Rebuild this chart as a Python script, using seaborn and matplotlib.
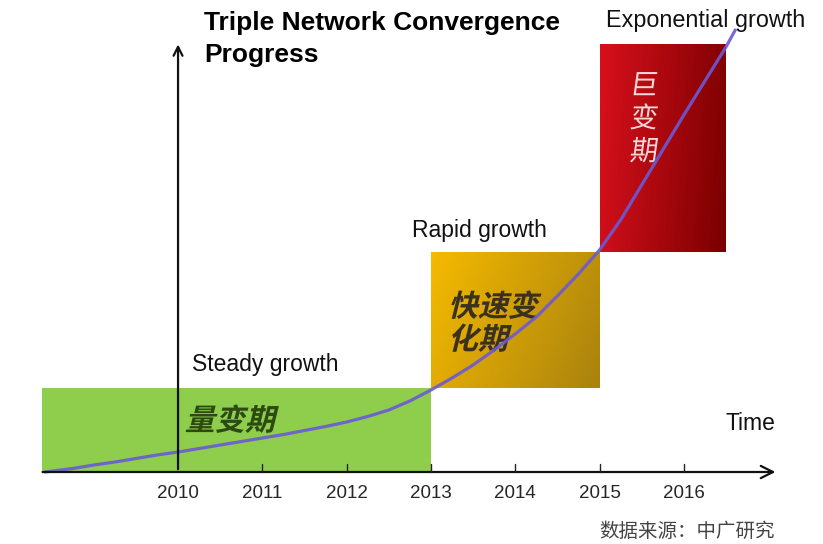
import numpy as np
import pandas as pd
import matplotlib
matplotlib.use("Agg")
import matplotlib.pyplot as plt
import seaborn as sns
from matplotlib.colors import LinearSegmentedColormap
from matplotlib.textpath import TextPath
from matplotlib.font_manager import FontProperties
from matplotlib.patches import PathPatch, Rectangle
from matplotlib.transforms import Affine2D

# ---------------- data ----------------
years = [2010, 2011, 2012, 2013, 2014, 2015, 2016]
tick_labels = ["2010", "2011", "2012", "2013", "2014", "2015", "2016"]

curve_x = [2008.42, 2008.75, 2009.0, 2009.25, 2009.5, 2009.75, 2010.0, 2010.25,
           2010.5, 2010.75, 2011.0, 2011.25, 2011.5, 2011.75, 2012.0, 2012.25,
           2012.5, 2012.75, 2013.0, 2013.25, 2013.5, 2013.75, 2014.0, 2014.25,
           2014.5, 2014.75, 2015.0, 2015.25, 2015.5, 2015.75, 2016.0, 2016.25,
           2016.5, 2016.61]
curve_y = [0.0, 0.82, 1.64, 2.34, 3.16, 3.98, 4.68, 5.50,
           6.32, 7.14, 7.96, 8.78, 9.72, 10.66, 11.71, 13.0,
           14.52, 16.63, 19.2, 22.01, 25.06, 28.57, 32.32, 36.3,
           41.22, 46.37, 51.99, 59.02, 67.21, 75.41, 83.61, 91.57,
           99.53, 103.51]

phase_names = ["量变期", "快速变\n化期", "巨\n变\n期"]
phase_labels = ["Steady growth", "Rapid growth", "Exponential growth"]
phase_start = [2008.39, 2013.0, 2015.0]
phase_end = [2013.0, 2015.0, 2016.49]
phase_low = [0.0, 19.7, 51.5]
phase_high = [19.7, 51.5, 100.0]

title_lines = ["Triple Network Convergence", "Progress"]
x_label = "Time"
source = "数据来源：中广研究"

# ---------------- style ----------------
sns.set_theme(style="white")
plt.rcParams["font.family"] = ["Liberation Sans", "Noto Sans CJK SC", "DejaVu Sans"]

fig = plt.figure(figsize=(8.23, 5.44), dpi=100)
ax = fig.add_axes([0, 0, 1, 1])
XLIM = (2007.888, 2017.651)
YLIM = (-16.86, 110.54)
ax.set_xlim(*XLIM)
ax.set_ylim(*YLIM)
ax.set_autoscale_on(False)
ax.axis("off")

# phase blocks
ax.add_patch(Rectangle((phase_start[0], phase_low[0]), phase_end[0] - phase_start[0],
                       phase_high[0] - phase_low[0], facecolor="#8fce4c", edgecolor="none", zorder=1))

def gradient_block(i, c0, c1, wx=0.75):
    n = 200
    xf = np.linspace(0, 1, n)[None, :]
    yf = np.linspace(0, 1, n)[:, None]
    g = wx * xf + (1 - wx) * (1 - yf)
    cmap = LinearSegmentedColormap.from_list("g%d" % i, [c0, c1])
    ax.imshow(g, extent=[phase_start[i], phase_end[i], phase_low[i], phase_high[i]],
              origin="lower", cmap=cmap, aspect="auto", zorder=1, interpolation="bilinear")

gradient_block(1, "#f5ba00", "#a9820e")
gradient_block(2, "#d8101c", "#7a0000", wx=0.9)
ax.set_xlim(*XLIM)
ax.set_ylim(*YLIM)

# growth curve
df = pd.DataFrame({"year": curve_x, "progress": curve_y})
sns.lineplot(data=df, x="year", y="progress", ax=ax, color="#6b5ad6", lw=2.3,
             alpha=0.9, zorder=4, sort=False)

# axes arrows
ax.annotate("", xy=(2017.12, 0), xytext=(2008.36, 0),
            arrowprops=dict(arrowstyle="->", lw=1.6, color="#111111",
                            mutation_scale=22), zorder=5)
ax.annotate("", xy=(2010, 100.8), xytext=(2010, 0),
            arrowprops=dict(arrowstyle="->", lw=1.6, color="#111111",
                            mutation_scale=16), zorder=5)
for yr, lab in zip(years, tick_labels):
    if yr != years[0]:
        ax.plot([yr, yr], [0, 1.9], color="#222222", lw=1.0, zorder=5)
    ax.text(yr, -5.15, lab, ha="center", va="center", fontsize=13.5, color="#262626")

# texts
ax.text(2010.31, 103.5, title_lines[0], ha="left", va="baseline", fontsize=19,
        fontweight="bold", color="black")
ax.text(2010.31, 96.0, title_lines[1], ha="left", va="baseline", fontsize=19,
        fontweight="bold", color="black")
ax.text(2015.08, 104.3, phase_labels[2], ha="left", va="baseline", fontsize=16.8, color="#111111")
ax.text(2012.77, 55.0, phase_labels[1], ha="left", va="baseline", fontsize=16.5, color="#111111")
ax.text(2010.17, 23.65, phase_labels[0], ha="left", va="baseline", fontsize=16.5, color="#111111")
ax.text(2016.49, 9.84, x_label, ha="left", va="baseline", fontsize=16.5, color="#111111")
ax.text(2015.0, -15.2, source, ha="left", va="baseline", fontsize=14,
        color="#444444", family=["Noto Sans CJK SC", "DejaVu Sans"])

fp_bold = FontProperties(family="Noto Sans CJK SC", weight="bold")
fp_reg = FontProperties(family="Noto Sans CJK SC", weight="normal")

def skew_text(x, y, s, size_px, color, step_px, skew=14, fp=fp_bold):
    X, Y = ax.transData.transform((x, y))
    for k, line in enumerate(s.split("\n")):
        tp = TextPath((0, 0), line, size=size_px, prop=fp)
        tr = Affine2D().skew_deg(skew, 0).translate(X, Y - k * step_px)
        ax.add_patch(PathPatch(tp, transform=tr, facecolor=color, edgecolor="none", zorder=3))

skew_text(2010.08, 9.8, phase_names[0], 30, "#2c4a12", 33)
skew_text(2013.20, 36.5, phase_names[1], 30, "#3a3120", 33)
skew_text(2015.35, 88.5, phase_names[2], 28, "#f7d6d6", 33, skew=8, fp=fp_reg)

fig.savefig("out.png", dpi=100)
